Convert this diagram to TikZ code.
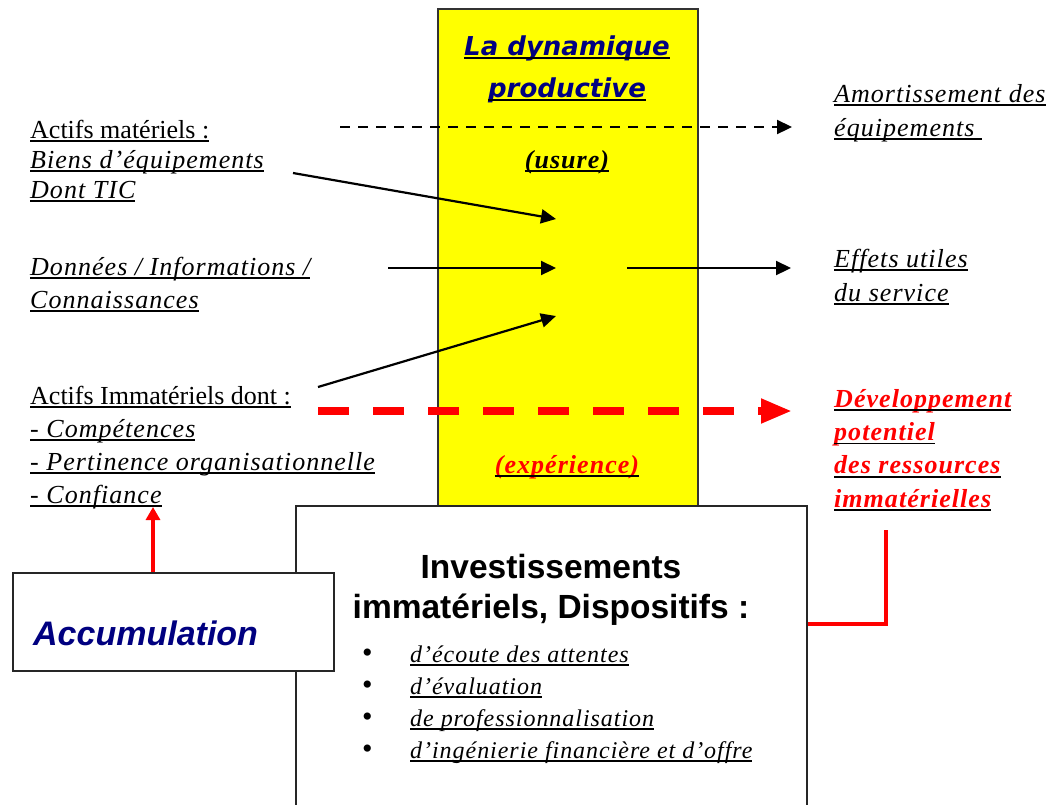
\documentclass[tikz,border=0pt]{standalone}
\usepackage{fontspec}
\setmainfont{Liberation Serif}[ItalicFeatures={LetterSpace=4}, BoldItalicFeatures={LetterSpace=4}]
\newfontfamily\arialf{Liberation Sans}
\newfontfamily\titref{DejaVu Sans}
\usetikzlibrary{arrows.meta}
\definecolor{marine}{RGB}{0,0,128}
\definecolor{jaune}{RGB}{255,255,0}
\definecolor{rouge}{RGB}{255,0,0}
\newsavebox\soulbox
\newcommand\souligne[1]{\sbox\soulbox{#1}\leavevmode\rlap{\usebox\soulbox}{\color{black}\rule[-4pt]{\wd\soulbox}{1.7pt}}}
\tikzset{
  zone/.style={draw=black!80, line width=1.5pt, fill=jaune, inner sep=0pt},
  cadre/.style={draw=black!85, line width=1.5pt, fill=white, inner sep=0pt},
  texte/.style={inner sep=0pt, align=left, font=\fontsize{26}{33}\selectfont\itshape},
  rtexte/.style={texte, text=rouge, font=\fontsize{26}{33.3}\selectfont\bfseries\itshape},
  titre/.style={inner sep=0pt, align=center, text=marine, font=\fontsize{26}{42}\selectfont\titref\bfseries\itshape},
  fleche/.style={line width=2.2pt, -{Triangle[length=15pt,width=14pt]}},
  pointille/.style={fleche, dash pattern=on 10pt off 8pt},
  rpointille/.style={draw=rouge, line width=7.5pt, dash pattern=on 31pt off 24pt, -{Triangle[length=31pt,width=23pt]}},
  rtrait/.style={draw=rouge, line width=3.2pt}
}
\begin{document}
\begin{tikzpicture}[x=1pt,y=-1pt]
\useasboundingbox (0,0) rectangle (1056,804);
% bande centrale
\node (dynamique) [zone, anchor=north west, minimum width=260pt, minimum height=515pt] at (437,8) {};
\node (titre) [titre, anchor=base] at (567,97) {\souligne{La dynamique}\\\souligne{productive}};
\node (usure) [rtexte, text=black, anchor=base] at (567,168) {\souligne{(usure)}};
\node (experience) [rtexte, anchor=base] at (567,473) {\souligne{(expérience)}};

% entrees
\node (materiels) [texte, anchor=base west, font=\fontsize{26}{30}\selectfont\itshape] at (30,198) {\souligne{\upshape Actifs matériels :}\\\souligne{Biens d’équipements}\\\souligne{Dont TIC}};
\node (donnees) [texte, anchor=base west] at (30,308) {\souligne{Données / Informations /}\\\souligne{Connaissances}};
\node (immateriels) [texte, anchor=base west] at (30,503) {\souligne{\upshape Actifs Immatériels dont :}\\\souligne{- Compétences}\\\souligne{- Pertinence organisationnelle}\\\souligne{- Confiance}};

% sorties
\node (amortissement) [texte, anchor=base west, font=\fontsize{26}{34}\selectfont\itshape] at (834,136) {\souligne{Amortissement des}\\\souligne{équipements\ }};
\node (effets) [texte, anchor=base west, font=\fontsize{26}{34}\selectfont\itshape] at (834,301) {\souligne{Effets utiles}\\\souligne{du service}};
\node (developpement) [rtexte, anchor=base west] at (834,507) {\souligne{Développement}\\\souligne{potentiel}\\\souligne{des ressources}\\\souligne{immatérielles}};

\coordinate (d1) at (340,127);
\coordinate (a1) at (792,127);
\coordinate (d2) at (293,173);
\coordinate (a2) at (556,219);
\coordinate (d3) at (388,268);
\coordinate (a3) at (556,268);
\coordinate (d4) at (318,387);
\coordinate (a4) at (556,316);
\coordinate (d5) at (627,268);
\coordinate (a5) at (791,268);
\coordinate (d6) at (318,411);
\coordinate (a6) at (792,411);

\draw [pointille] (d1) -- (a1);
\draw [fleche] (d2) -- (a2);
\draw [fleche] (d3) -- (a3);
\draw [fleche] (d4) -- (a4);
\draw [fleche] (d5) -- (a5);
\draw [rpointille] (d6) -- (a6);

% investissements
\node (invest) [cadre, anchor=north west, minimum width=511pt, minimum height=320pt] at (295,505) {};
\node (investtitre) [inner sep=0pt, align=center, font=\fontsize{33.5}{40}\selectfont\arialf\bfseries, anchor=base] at (551,618) {Investissements\\immatériels, Dispositifs :};
\node (dispositifs) [texte, anchor=base west, font=\fontsize{24}{32}\selectfont\itshape] at (362,758) {%
\makebox[48pt][l]{\upshape\fontsize{30}{32}\selectfont\textbullet}\souligne{d’écoute des attentes}\\
\makebox[48pt][l]{\upshape\fontsize{30}{32}\selectfont\textbullet}\souligne{d’évaluation}\\
\makebox[48pt][l]{\upshape\fontsize{30}{32}\selectfont\textbullet}\souligne{de professionnalisation}\\
\makebox[48pt][l]{\upshape\fontsize{30}{32}\selectfont\textbullet}\souligne{d’ingénierie financière et d’offre}};

% accumulation
\node (accu) [cadre, anchor=north west, minimum width=321pt, minimum height=98pt] at (12,572) {};
\node (accutexte) [inner sep=0pt, text=marine, font=\fontsize{34}{38}\selectfont\arialf\bfseries\itshape, anchor=base west] at (33,645) {Accumulation};

\coordinate (confiance) at (153,507);
\coordinate (coude) at (886,624);
\coordinate (devbas) at (886,530);
\draw [rtrait, -{Triangle[length=13pt,width=14pt]}] (accu.north -| confiance) -- (confiance);
\draw [rtrait] (invest.east |- coude) -- (coude) -- (devbas);
\end{tikzpicture}
\end{document}
